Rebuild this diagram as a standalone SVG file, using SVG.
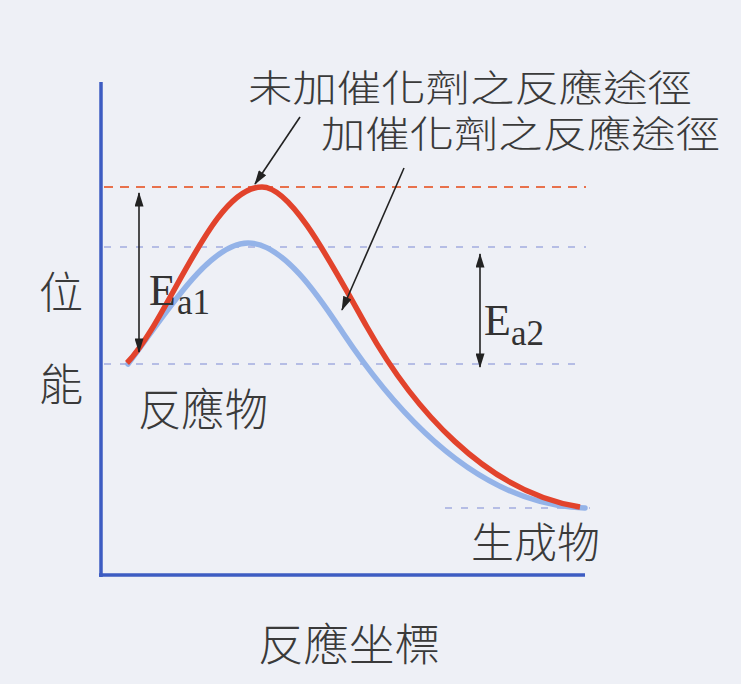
<svg xmlns="http://www.w3.org/2000/svg" width="741" height="684" viewBox="0 0 741 684">
<defs>
<marker id="ah" viewBox="0 0 16 10" refX="15" refY="5" markerUnits="userSpaceOnUse" markerWidth="15" markerHeight="9" orient="auto-start-reverse">
<path d="M0,0 L16,5 L0,10 z" fill="#222"/>
</marker>
<style>
.cjk{font-family:"Noto Sans CJK TC","Noto Sans CJK SC",sans-serif;font-weight:300;fill:#3a3a3a;}
.ser{font-family:"Liberation Serif","Times New Roman",serif;fill:#333;}
.axis{stroke:#3d5cc2;stroke-width:3.5;fill:none;}
.dashr{stroke:#e8714c;stroke-width:1.8;stroke-dasharray:9 7;fill:none;}
.dashb{stroke:#a3acdf;stroke-width:1.5;stroke-dasharray:7 9;fill:none;}
.arr{stroke:#222;stroke-width:1.6;fill:none;}
</style>
</defs>
<rect width="741" height="684" fill="#eef0f6"/>

<g id="axes">
<line class="axis" x1="101" y1="82" x2="101" y2="577"/>
<line class="axis" x1="99" y1="575" x2="585" y2="575"/>
</g>

<g id="levels">
<line class="dashr" x1="104" y1="187" x2="586" y2="187"/>
<line class="dashb" x1="104" y1="247" x2="586" y2="247"/>
<line class="dashb" x1="104" y1="364" x2="584" y2="364"/>
<line class="dashb" x1="445" y1="508" x2="590" y2="508"/>
</g>

<g id="curve-catalyzed">
<path fill="none" stroke="#94b3e8" stroke-width="5.5" stroke-linecap="round" d="M128,364 C163,318 208,243 248,243 C285,243 323,303 343,333 C398,415.5 480,505 585,508"/>
</g>

<g id="curve-uncatalyzed">
<path fill="none" stroke="#e2432c" stroke-width="5.5" d="M127,363 C170,318 212,187 262,187 C292,187 332,265 367,327 C412,407 485,492 580,507"/>
</g>

<g id="Ea1">
<line class="arr" x1="139" y1="193" x2="139" y2="352" marker-start="url(#ah)" marker-end="url(#ah)"/>
<text class="ser" x="149" y="305" font-size="44">E</text>
<text class="ser" x="177" y="314" font-size="35">a1</text>
</g>

<g id="Ea2">
<line class="arr" x1="480" y1="254" x2="480" y2="367" marker-start="url(#ah)" marker-end="url(#ah)"/>
<text class="ser" x="484" y="335" font-size="44">E</text>
<text class="ser" x="511" y="345" font-size="35">a2</text>
</g>

<g id="label-uncatalyzed">
<text class="cjk" x="248" y="102" font-size="37" textLength="444" lengthAdjust="spacingAndGlyphs">未加催化劑之反應途徑</text>
</g>
<g id="label-catalyzed">
<text class="cjk" x="321" y="148" font-size="37" textLength="399" lengthAdjust="spacingAndGlyphs">加催化劑之反應途徑</text>
</g>

<g id="connectors">
<line class="arr" x1="300" y1="117" x2="255" y2="184" marker-end="url(#ah)"/>
<line class="arr" x1="404" y1="168" x2="342" y2="310" marker-end="url(#ah)"/>
</g>

<g id="y-label">
<text class="cjk" x="39" y="309" font-size="44">位</text>
<text class="cjk" x="39" y="401" font-size="44">能</text>
</g>
<g id="reactants">
<text class="cjk" x="138" y="426" font-size="44" textLength="130" lengthAdjust="spacingAndGlyphs">反應物</text>
</g>
<g id="products">
<text class="cjk" x="471" y="558" font-size="42" textLength="129" lengthAdjust="spacingAndGlyphs">生成物</text>
</g>
<g id="x-label">
<text class="cjk" x="258" y="661" font-size="44" textLength="182" lengthAdjust="spacingAndGlyphs">反應坐標</text>
</g>
</svg>
